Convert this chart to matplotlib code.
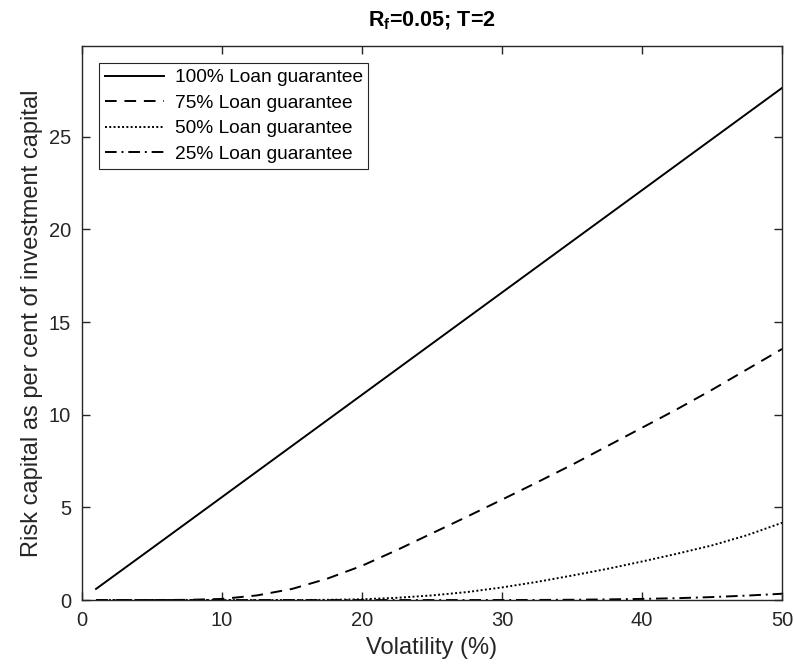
import numpy as np
import matplotlib
matplotlib.use("Agg")
import matplotlib.pyplot as plt

plt.rcParams['font.family'] = ['Liberation Sans', 'DejaVu Sans']
plt.rcParams['mathtext.fontset'] = 'custom'
plt.rcParams['mathtext.rm'] = 'Liberation Sans'
plt.rcParams['mathtext.bf'] = 'Liberation Sans:bold'

# volatility (%) and risk capital
vol = [1, 5, 7.5, 10, 12.5, 15, 17.5, 20, 22.5, 25, 27.5, 30,
       32.5, 35, 37.5, 40, 42.5, 45, 47.5, 50]
g100 = [0.60, 2.80, 4.18, 5.56, 6.94, 8.32, 9.70, 11.08, 12.46, 13.84, 15.22, 16.60,
        17.98, 19.36, 20.74, 22.12, 23.50, 24.88, 26.26, 27.64]
g75 = [0, 0, 0.01, 0.06, 0.25, 0.6, 1.15, 1.85, 2.7, 3.6, 4.5, 5.42,
       6.35, 7.3, 8.3, 9.3, 10.3, 11.35, 12.45, 13.55]
g50 = [0, 0, 0, 0, 0, 0, 0.01, 0.04, 0.12, 0.25, 0.43, 0.68,
       0.98, 1.32, 1.68, 2.08, 2.5, 2.95, 3.5, 4.17]
g25 = [0, 0, 0, 0, 0, 0, 0, 0, 0, 0, 0, 0.002,
       0.005, 0.015, 0.035, 0.06, 0.1, 0.16, 0.24, 0.34]

labels = ['100% Loan guarantee', '75% Loan guarantee',
          '50% Loan guarantee', '25% Loan guarantee']

fig = plt.figure(figsize=(7.94, 6.67), dpi=100)
ax = fig.add_axes([0.1033, 0.1004, 0.8817, 0.8306])

lw = 1.4
ax.plot(vol, g100, '-', color='k', lw=lw, label=labels[0])
ax.plot(vol, g75, color='k', lw=lw, linestyle=(0, (6, 4)), label=labels[1])
ax.plot(vol, g50, color='k', lw=lw, linestyle=(0, (1, 1.2)), label=labels[2])
ax.plot(vol, g25, color='k', lw=lw, linestyle=(0, (6, 2.5, 1, 2.5)), label=labels[3])

ax.set_xlim(0, 50)
ax.set_ylim(0, 29.9)
ax.set_xticks([0, 10, 20, 30, 40, 50])
ax.set_yticks([0, 5, 10, 15, 20, 25])
ax.tick_params(direction='in', top=True, right=True, labelsize=14.5,
               length=6, width=1, colors='#262626', pad=8)
for s in ax.spines.values():
    s.set_color('#262626')
    s.set_linewidth(1)

ax.set_xlabel('Volatility (%)', fontsize=17, color='#262626', labelpad=5)
ax.set_ylabel('Risk capital as per cent of investment capital', fontsize=17,
              color='#262626', labelpad=4)
ax.set_title(r'$\mathbf{R_f}$=0.05; T=2', fontsize=15.5, fontweight='bold', pad=14)

leg = ax.legend(loc='upper left', bbox_to_anchor=(0.024, 0.969), fontsize=13.8,
                handlelength=3.1, handletextpad=0.55, labelspacing=0.42,
                borderpad=0.3, borderaxespad=0, fancybox=False, framealpha=1)
leg.get_frame().set_edgecolor('#262626')
leg.get_frame().set_linewidth(0.8)

fig.savefig('out.png', dpi=100)
